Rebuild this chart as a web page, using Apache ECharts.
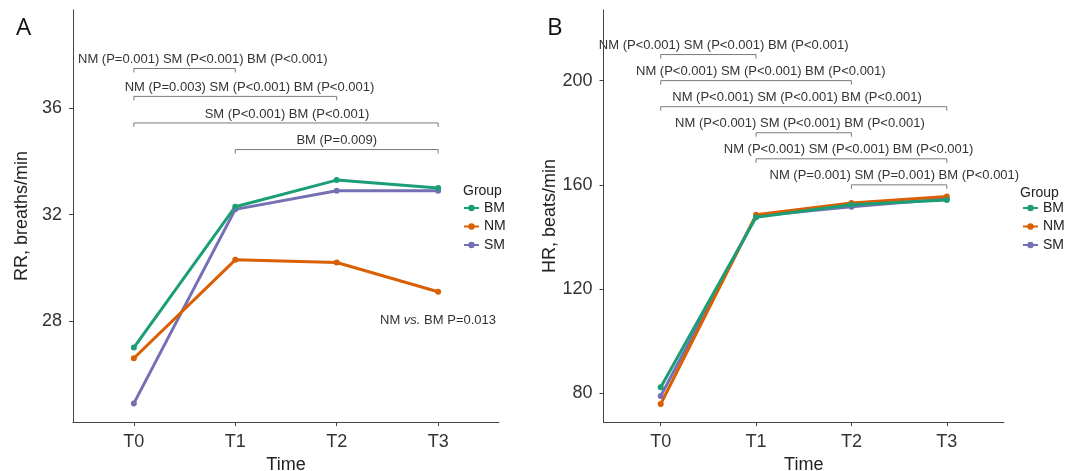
<!DOCTYPE html>
<html>
<head>
<meta charset="utf-8">
<script src="https://cdn.jsdelivr.net/npm/echarts@6/dist/echarts.min.js"></script>
<style>html,body{margin:0;padding:0;background:#fff;}#c{width:1089px;height:471px;}</style>
</head>
<body>
<div id="c"></div>
<script>
const categories = ['T0', 'T1', 'T2', 'T3'];
const groups = ['BM', 'NM', 'SM'];
const rrBM = [27.0, 32.3, 33.3, 33.0];
const rrNM = [26.6, 30.3, 30.2, 29.1];
const rrSM = [24.9, 32.2, 32.9, 32.9];
const hrBM = [82.3, 147.6, 152.4, 154.2];
const hrNM = [75.9, 148.5, 153.0, 155.5];
const hrSM = [79.0, 148.0, 151.6, 154.7];
const rrTicks = [28, 32, 36];
const hrTicks = [80, 120, 160, 200];
// [from, to, bracket height, label centre]
const rrBrackets = [[0, 1, 37.5, 0.68], [0, 2, 36.45, 1.14], [0, 3, 35.45, 1.51], [1, 3, 34.45, 2.0]];
const rrBracketLabels = ['NM (P=0.001) SM (P<0.001) BM (P<0.001)', 'NM (P=0.003) SM (P<0.001) BM (P<0.001)', 'SM (P<0.001) BM (P<0.001)', 'BM (P=0.009)'];
const hrBrackets = [[0, 1, 210, 0.66], [0, 2, 200, 1.05], [0, 3, 190, 1.43], [1, 2, 180, 1.46], [1, 3, 170, 1.97], [2, 3, 160, 2.45]];
const hrBracketLabels = ['NM (P<0.001) SM (P<0.001) BM (P<0.001)', 'NM (P<0.001) SM (P<0.001) BM (P<0.001)', 'NM (P<0.001) SM (P<0.001) BM (P<0.001)', 'NM (P<0.001) SM (P<0.001) BM (P<0.001)', 'NM (P<0.001) SM (P<0.001) BM (P<0.001)', 'NM (P=0.001) SM (P=0.001) BM (P<0.001)'];
const colors = {BM: '#1b9e77', NM: '#d95f02', SM: '#7570b3'};

const FONT = '"Liberation Sans", Arial, sans-serif';
const chart = echarts.init(document.getElementById('c'), null, {renderer: 'canvas'});

function pairs(arr) { return arr.map((v, i) => [i, v]); }

function xAxis(gi) {
  return {
    type: 'value', gridIndex: gi, min: -0.6, max: 3.6,
    name: 'Time', nameLocation: 'middle', nameGap: 31,
    nameTextStyle: {fontSize: 18, color: '#222', fontFamily: FONT},
    axisLine: {show: true, onZero: false, lineStyle: {color: '#444', width: 1}},
    axisTick: {show: true, length: 4, lineStyle: {color: '#444'}, customValues: [0, 1, 2, 3]},
    axisLabel: {fontSize: 18, color: '#333', margin: 11, fontFamily: FONT, customValues: [0, 1, 2, 3], formatter: v => categories[Math.round(v)]},
    splitLine: {show: false}
  };
}
function yAxis(gi, min, max, ticks, name, gap) {
  return {
    type: 'value', gridIndex: gi, min: min, max: max,
    name: name, nameLocation: 'middle', nameGap: gap, nameRotate: 90,
    nameTextStyle: {fontSize: 18, color: '#222', fontFamily: FONT},
    axisLine: {show: true, onZero: false, lineStyle: {color: '#444', width: 1}},
    axisTick: {show: true, length: 4, lineStyle: {color: '#444'}, customValues: ticks},
    axisLabel: {fontSize: 18, color: '#333', margin: 11, fontFamily: FONT, customValues: ticks},
    splitLine: {show: false}
  };
}
function lineSeries(name, data, gi) {
  return {
    type: 'line', name: name, xAxisIndex: gi, yAxisIndex: gi, data: pairs(data),
    symbol: 'circle', symbolSize: 6, showSymbol: true,
    lineStyle: {color: colors[name], width: 3}, itemStyle: {color: colors[name]},
    emphasis: {disabled: true}, animation: false, z: 3
  };
}
function bracketSeries(brackets, labels, gi) {
  return {
    type: 'custom', xAxisIndex: gi, yAxisIndex: gi, data: brackets, clip: false, silent: true, animation: false,
    renderItem: function (params, api) {
      const b = brackets[params.dataIndex];
      const p1 = api.coord([b[0], b[2]]);
      const p2 = api.coord([b[1], b[2]]);
      const pt = api.coord([b[3], b[2]]);
      return {
        type: 'group', children: [
          {type: 'polyline', shape: {points: [[p1[0], p1[1] + 4], [p1[0], p1[1]], [p2[0], p2[1]], [p2[0], p2[1] + 4]]},
            style: {stroke: '#7a7a7a', lineWidth: 1, fill: null}},
          {type: 'text', x: pt[0], y: pt[1] - 2.5,
            style: {text: labels[params.dataIndex], align: 'center', verticalAlign: 'bottom', fontSize: 13, fill: '#333', fontFamily: FONT}}
        ]
      };
    }
  };
}

const legendBase = {
  orient: 'vertical', itemWidth: 15, itemHeight: 8, itemGap: 4.5, padding: 0,
  textStyle: {fontSize: 14, color: '#222', fontFamily: FONT, lineHeight: 14},
  data: groups, selectedMode: false
};

const option = {
  backgroundColor: '#fff',
  animation: false,
  grid: [
    {left: 73, top: 10, width: 426, height: 412, outerBoundsMode: 'none', containLabel: false},
    {left: 603.5, top: 10, width: 400.5, height: 412, outerBoundsMode: 'none', containLabel: false}
  ],
  xAxis: [xAxis(0), xAxis(1)],
  yAxis: [yAxis(0, 24.2, 39.7, rrTicks, 'RR, breaths/min', 42), yAxis(1, 69, 227.1, hrTicks, 'HR, beats/min', 44)],
  legend: [
    Object.assign({left: 463, top: 201}, legendBase),
    Object.assign({left: 1022, top: 201}, legendBase)
  ],
  series: [
    lineSeries('SM', rrSM, 0), lineSeries('NM', rrNM, 0), lineSeries('BM', rrBM, 0),
    lineSeries('SM', hrSM, 1), lineSeries('NM', hrNM, 1), lineSeries('BM', hrBM, 1),
    bracketSeries(rrBrackets, rrBracketLabels, 0),
    bracketSeries(hrBrackets, hrBracketLabels, 1)
  ],
  graphic: [
    {type: 'text', left: 16, top: 16, style: {text: 'A', fontSize: 24, fill: '#111', fontFamily: '"Open Sans", sans-serif'}},
    {type: 'text', left: 547, top: 16, style: {text: 'B', fontSize: 24, fill: '#111', fontFamily: '"Open Sans", sans-serif'}},
    {type: 'text', left: 463, top: 184, style: {text: 'Group', fontSize: 14, fill: '#222', fontFamily: FONT}},
    {type: 'text', left: 1020, top: 186, style: {text: 'Group', fontSize: 14, fill: '#222', fontFamily: FONT}},
    {type: 'text', right: 1089 - 496, top: 314, style: {
      text: '{a|NM }{i|vs.}{a| BM P=0.013}',
      rich: {a: {fontSize: 13, fill: '#333', fontFamily: FONT}, i: {fontSize: 13, fill: '#333', fontStyle: 'italic', fontFamily: FONT}}
    }}
  ]
};
chart.setOption(option);
</script>
</body>
</html>
